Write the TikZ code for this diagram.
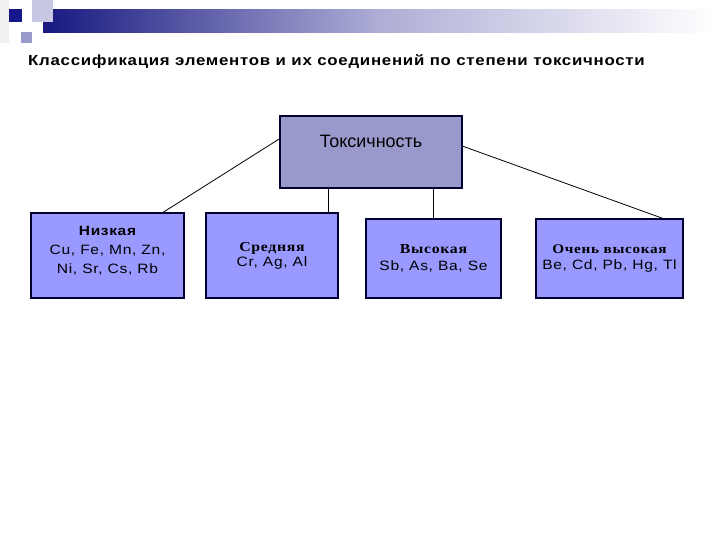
\documentclass[tikz,border=0pt]{standalone}
\usepackage{fontspec}
\setmainfont{Liberation Sans}[FakeStretch=1.15,LetterSpace=5]
\newfontfamily\plainsans{Liberation Sans}
\newfontfamily\serifhead{Liberation Serif}[FakeStretch=1.15,LetterSpace=5]
\usepackage{xcolor}
\definecolor{txnavy}{RGB}{0,0,51}
\definecolor{txtop}{RGB}{153,153,204}
\definecolor{txbox}{RGB}{153,153,255}
\definecolor{txbar}{RGB}{24,24,128}
\definecolor{txlav}{RGB}{200,200,228}
\usepackage{tikz}
\usetikzlibrary{positioning,calc}

\begin{document}
\begin{tikzpicture}[x=1bp, y=-1bp,
  grpbox/.style={draw=txnavy, line width=1.2bp, fill=txbox, inner sep=0pt, align=center, font=\fontsize{13.6}{19}\selectfont},
  link/.style={draw=black, line width=0.8bp}]
  \useasboundingbox (0,0) rectangle (720,540);
  % slide decoration
  \fill[gray!12] (0,0) rectangle (9,43);
  \shade[left color=txbar, right color=white, middle color=txtop!80] (43,10) rectangle (715,33);
  \fill[txlav] (32,0) rectangle (53,22);
  \fill[txbar!90!blue] (9,9) rectangle (22,22);
  \fill[txtop] (21,32) rectangle (32,43);
  % title
  \node[anchor=base west, inner sep=0pt, font=\bfseries\fontsize{14.7}{17}\selectfont] (title) at (28,66) {Классификация элементов и их соединений по степени токсичности};
  % boxes
  \node[draw=txnavy, line width=1.2bp, fill=txtop, minimum width=182bp, minimum height=72bp, inner sep=4bp, text height=28bp, text depth=36bp, font=\plainsans\fontsize{18}{21}\selectfont] (tox) at (371,152) {Токсичность};
  \node[grpbox, minimum width=153bp, minimum height=85bp] (low) at (107.5,255.5) {{\bfseries\fontsize{13.5}{19}\selectfont Низкая}\\Cu, Fe, Mn, Zn,\\Ni, Sr, Cs, Rb\\[-8bp]};
  \node[grpbox, minimum width=132bp, minimum height=85bp] (mid) at (272,255.5) {{\serifhead\bfseries\fontsize{13.8}{19}\selectfont Средняя}\\[-4bp]Cr, Ag, Al};
  \node[grpbox, minimum width=135bp, minimum height=79bp] (high) at (433.5,258.5) {{\serifhead\bfseries\fontsize{13.8}{19}\selectfont Высокая}\\[-2bp]Sb, As, Ba, Se};
  \node[grpbox, minimum width=147bp, minimum height=79bp] (vhigh) at (609.5,258.5) {{\serifhead\bfseries\fontsize{13.3}{19}\selectfont Очень высокая}\\[-2bp]Be, Cd, Pb, Hg, Tl};
  % connectors
  \coordinate (tl) at ($(tox.north west)!0.32!(tox.south west)$);
  \coordinate (tr) at ($(tox.north east)!0.42!(tox.south east)$);
  \coordinate (lowtop) at ($(low.north west)!0.86!(low.north east)$);
  \coordinate (vhightop) at ($(vhigh.north west)!0.86!(vhigh.north east)$);
  \coordinate (midtop) at ($(mid.north west)!0.92!(mid.north east)$);
  \draw[link] (tl) -- (lowtop);
  \draw[link] (tr) -- (vhightop);
  \draw[link] (midtop) -- (midtop |- tox.south);
  \draw[link] (high.north) -- (high.north |- tox.south);
\end{tikzpicture}
\end{document}
